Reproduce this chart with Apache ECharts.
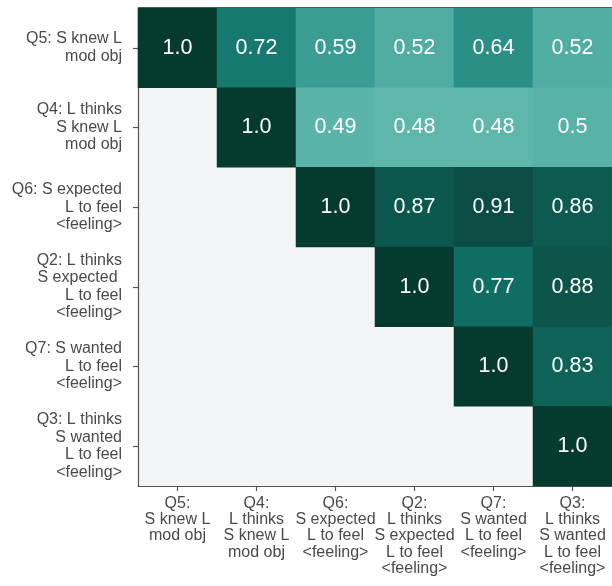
<!DOCTYPE html>
<html>
<head>
<meta charset="utf-8">
<script src="https://cdn.jsdelivr.net/npm/echarts@6/dist/echarts.min.js"></script>
<style>
  html, body { margin: 0; padding: 0; background: #ffffff; }
  #chart { width: 612px; height: 586px; }
</style>
</head>
<body>
<div id="chart"></div>
<script>
// Question labels, in display order (top to bottom / left to right)
const xLabels = [
  'Q5:\nS knew L\nmod obj',
  'Q4:\nL thinks\nS knew L\nmod obj',
  'Q6:\nS expected\nL to feel\n<feeling>',
  'Q2:\nL thinks\nS expected\nL to feel\n<feeling>',
  'Q7:\nS wanted\nL to feel\n<feeling>',
  'Q3:\nL thinks\nS wanted\nL to feel\n<feeling>'
];
const yLabels = [
  'Q5: S knew L\nmod obj',
  'Q4: L thinks\nS knew L\nmod obj',
  'Q6: S expected\nL to feel\n<feeling>',
  'Q2: L thinks\nS expected \nL to feel\n<feeling>',
  'Q7: S wanted\nL to feel\n<feeling>',
  'Q3: L thinks\nS wanted\nL to feel\n<feeling>'
];

// Upper-triangle correlations, one row per question (row i starts at column i)
const rowQ5 = [1.0, 0.72, 0.59, 0.52, 0.64, 0.52];
const rowQ4 = [1.0, 0.49, 0.48, 0.48, 0.5];
const rowQ6 = [1.0, 0.87, 0.91, 0.86];
const rowQ2 = [1.0, 0.77, 0.88];
const rowQ7 = [1.0, 0.83];
const rowQ3 = [1.0];
const rows = [rowQ5, rowQ4, rowQ6, rowQ2, rowQ7, rowQ3];

const cells = [];
rows.forEach((row, i) => {
  row.forEach((v, k) => cells.push([i + k, i, v]));
});

const fontFamily = '"Liberation Sans", Arial, Helvetica, sans-serif';
const chart = echarts.init(document.getElementById('chart'), null, { renderer: 'canvas' });

chart.setOption({
  animation: false,
  backgroundColor: '#ffffff',
  grid: {
    left: 138, top: 8, width: 477, height: 478,
    show: true,
    backgroundColor: '#f4f5f7',
    borderWidth: 0
  },
  xAxis: {
    type: 'category',
    data: xLabels,
    position: 'bottom',
    axisLine: { show: true, lineStyle: { color: '#555555', width: 1.2 } },
    axisTick: { show: true, alignWithLabel: true, length: 5, lineStyle: { color: '#555555', width: 1.2 } },
    axisLabel: {
      interval: 0, margin: 9,
      color: '#4a4a4a', fontSize: 16, lineHeight: 16.4, fontFamily: fontFamily,
      align: 'center'
    },
    splitLine: { show: false }
  },
  yAxis: {
    type: 'category',
    data: yLabels,
    inverse: true,
    axisLine: { show: true, lineStyle: { color: '#555555', width: 1.2 } },
    axisTick: { show: true, alignWithLabel: true, length: 5, lineStyle: { color: '#555555', width: 1.2 } },
    axisLabel: {
      interval: 0, margin: 16,
      color: '#4a4a4a', fontSize: 16, lineHeight: 17.5, fontFamily: fontFamily,
      align: 'right'
    },
    splitLine: { show: false }
  },
  visualMap: {
    show: false,
    type: 'continuous',
    dimension: 2,
    min: 0.48,
    max: 1.0,
    inRange: {
      color: ['#5fb6ab', '#40a398', '#268b84', '#107369', '#0f6358', '#0b4c43', '#053a2e']
    }
  },
  series: [{
    type: 'heatmap',
    data: cells,
    itemStyle: { borderWidth: 0 },
    label: {
      show: true,
      color: '#ffffff',
      fontSize: 21.5,
      fontFamily: fontFamily,
      formatter: p => {
        const v = p.value[2];
        return Number.isInteger(v) ? v.toFixed(1) : String(v);
      }
    },
    emphasis: { disabled: true }
  }],
  graphic: [{
    // top spine of the plot frame
    type: 'line',
    shape: { x1: 138, y1: 7.5, x2: 612, y2: 7.5 },
    style: { stroke: '#555555', lineWidth: 1.2 },
    z: 10
  }]
});
</script>
</body>
</html>
